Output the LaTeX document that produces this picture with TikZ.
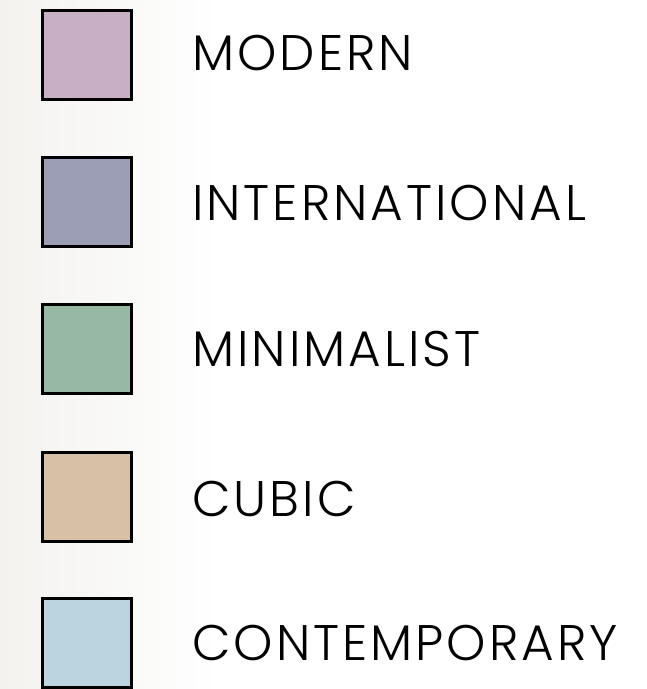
\documentclass[tikz,border=0pt]{standalone}
\usepackage{fontspec}
\setmainfont{Poppins}[UprightFont={* Light},LetterSpace=6]
\definecolor{cmodern}{HTML}{C8AFC6}
\definecolor{cintl}{HTML}{9B9EB5}
\definecolor{cmin}{HTML}{97B8A2}
\definecolor{ccubic}{HTML}{D8C0A7}
\definecolor{ccont}{HTML}{BCD4E0}
\definecolor{bgleft}{HTML}{F3F2EF}
\begin{document}
\begin{tikzpicture}[x=1pt,y=-1pt,
  swatch/.style={draw=black,line width=3pt,minimum width=89pt,minimum height=89pt,inner sep=0pt,anchor=center},
  lbl/.style={anchor=west,inner sep=0pt,font=\fontsize{50}{50}\selectfont,text=black}]
\useasboundingbox (0,0) rectangle (647,689);
\shade[left color=bgleft,right color=white] (0,0) rectangle (220,689);
\fill[white] (220,0) rectangle (647,689);
\node[swatch,fill=cmodern] (s1) at (86.5,54.5) {};
\node[swatch,fill=cintl] (s2) at (86.5,202) {};
\node[swatch,fill=cmin] (s3) at (86.5,349) {};
\node[swatch,fill=ccubic] (s4) at (86.5,496.5) {};
\node[swatch,fill=ccont] (s5) at (86.5,643) {};
\node[lbl] (t1) at (192,53) {MODERN};
\node[lbl] (t2) at (192,203) {INTERNATIONAL};
\node[lbl] (t3) at (192,349) {MINIMALIST};
\node[lbl] (t4) at (192,498.5) {CUBIC};
\node[lbl] (t5) at (192,642.5) {CONTEMPORARY};
\end{tikzpicture}
\end{document}
